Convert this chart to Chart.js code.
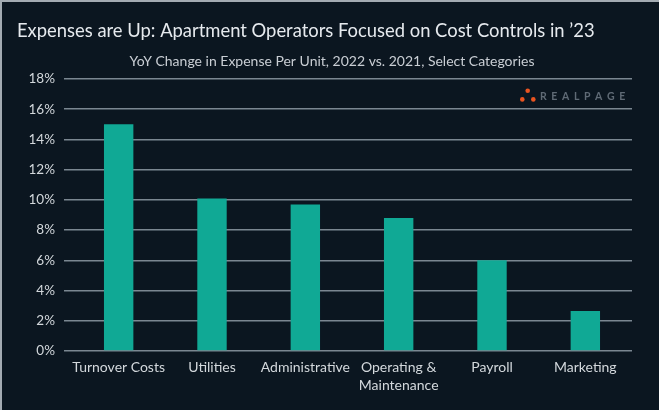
<!DOCTYPE html>
<html>
<head>
<meta charset="utf-8">
<script src="https://cdn.jsdelivr.net/npm/chart.js@4.4.0/dist/chart.umd.min.js"></script>
<style>
  html, body { margin: 0; padding: 0; background: #0b1620; }
  #wrap { width: 659px; height: 410px; position: relative; }
  canvas { display: block; }
</style>
</head>
<body>
<div id="wrap"><canvas id="c" width="659" height="410"></canvas></div>
<script>
const categories = ['Turnover Costs', 'Utilities', 'Administrative', ['Operating &', 'Maintenance'], 'Payroll', 'Marketing'];
const yoyChange = [15.0, 10.1, 9.7, 8.8, 6.0, 2.65];
const yTicks = [0, 2, 4, 6, 8, 10, 12, 14, 16, 18];
const titleText = 'Expenses are Up: Apartment Operators Focused on Cost Controls in \u201923';
const subtitleText = 'YoY Change in Expense Per Unit, 2022 vs. 2021, Select Categories';
const logoText = 'REALPAGE';

const bgPlugin = {
  id: 'bg',
  beforeDraw(chart) {
    const ctx = chart.ctx;
    ctx.save();
    ctx.fillStyle = '#0b1620';
    ctx.fillRect(0, 0, chart.width, chart.height);
    ctx.fillStyle = '#a3abb2';
    ctx.fillRect(0, 0, chart.width, 2);
    ctx.fillRect(0, 0, 2, chart.height);
    ctx.restore();
  },
  afterDraw(chart) {
    const ctx = chart.ctx;
    ctx.save();
    ctx.textBaseline = 'middle';
    // title
    ctx.fillStyle = '#e6eaee';
    ctx.font = '18.4px Lato';
    ctx.textAlign = 'left';
    ctx.fillText(titleText, 17, 31);
    // subtitle
    ctx.fillStyle = '#c9ced4';
    ctx.font = '14px Lato';
    ctx.textAlign = 'center';
    ctx.fillText(subtitleText, 332, 61);
    // logo
    ctx.textAlign = 'left';
    ctx.fillStyle = '#ea5420';
    [[527.7, 90.8], [522.3, 99.4], [533.3, 99.4]].forEach(([x, y]) => {
      ctx.beginPath(); ctx.arc(x, y, 2.3, 0, Math.PI * 2); ctx.fill();
    });
    ctx.fillStyle = '#5f6a75';
    ctx.font = 'bold 10.5px Lato';
    let x = 540;
    for (const ch of logoText) {
      ctx.fillText(ch, x, 96.5);
      x += ctx.measureText(ch).width + 4.6;
    }
    ctx.restore();
  }
};

new Chart(document.getElementById('c'), {
  type: 'bar',
  data: {
    labels: categories,
    datasets: [{
      data: yoyChange,
      backgroundColor: '#10a995',
      borderWidth: 0,
      categoryPercentage: 1,
      barPercentage: 0.315
    }]
  },
  options: {
    responsive: false,
    animation: false,
    devicePixelRatio: 1,
    layout: { padding: { left: 17, right: 27, top: 79, bottom: 0 } },
    plugins: {
      legend: { display: false },
      tooltip: { enabled: false },
      title: { display: false },
      subtitle: { display: false }
    },
    scales: {
      x: {
        grid: { display: false, drawTicks: false },
        border: { display: false },
        ticks: {
          color: '#d3d8dc',
          font: { family: 'Lato', size: 14, lineHeight: 1.25 },
          padding: 8,
          maxRotation: 0,
          autoSkip: false
        },
        afterFit(scale) { scale.height = 59; }
      },
      y: {
        min: 0,
        max: 18,
        afterBuildTicks(scale) { scale.ticks = yTicks.map(v => ({ value: v })); },
        grid: { color: '#7b8791', lineWidth: 1.5, tickLength: 8, drawTicks: true },
        border: { display: false },
        ticks: {
          color: '#d3d8dc',
          font: { family: 'Lato', size: 13.5 },
          padding: 9,
          callback: v => v + '%'
        },
        afterFit(scale) { scale.width = 55; }
      }
    }
  },
  plugins: [bgPlugin]
});
</script>
</body>
</html>
